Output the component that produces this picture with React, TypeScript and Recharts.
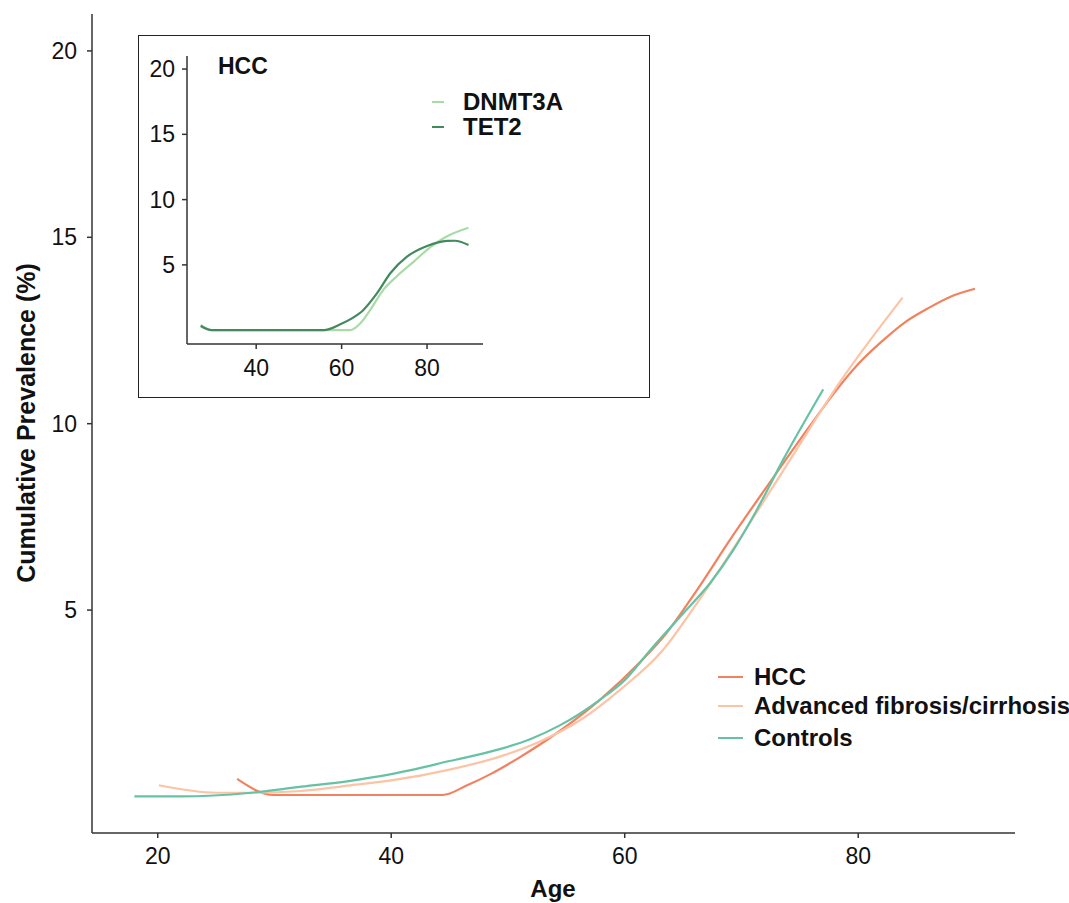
import { LineChart, Line, XAxis, YAxis } from "recharts";

// main panel: cumulative prevalence by age
const hccAge = [26.8, 29.9, 37, 44.4, 46.5, 48.5, 51, 54.4, 57.9, 61.3, 63.5, 66, 69.2, 72.6, 76, 78, 80, 82, 84, 86, 88, 90];
const hccPrev = [0.47, 0.04, 0.04, 0.04, 0.3, 0.6, 1.05, 1.75, 2.6, 3.6, 4.35, 5.45, 6.97, 8.5, 10.0, 10.85, 11.6, 12.2, 12.72, 13.1, 13.42, 13.62];

const fibAge = [20.1, 25, 28, 32, 36.5, 40, 45, 49.3, 52.7, 56.2, 59.6, 63.2, 66, 69.2, 73.8, 78.4, 83.8];
const fibPrev = [0.3, 0.1, 0.1, 0.14, 0.3, 0.43, 0.72, 1.07, 1.47, 2.05, 2.86, 3.9, 5.1, 6.6, 8.85, 11.1, 13.38];

const ctrlAge = [18, 22, 28, 32, 36.5, 40, 45, 49.3, 52, 54.4, 57.9, 60, 62.2, 65, 67.3, 69.3, 71.3, 73.6, 77];
const ctrlPrev = [0, 0, 0.1, 0.25, 0.42, 0.6, 0.95, 1.27, 1.55, 1.9, 2.6, 3.12, 3.93, 4.91, 5.72, 6.61, 7.68, 9.05, 10.92];

// inset: HCC by gene
const dnmAge = [27, 29.6, 40, 55, 62, 64.4, 66.7, 69.8, 73, 76.9, 80.7, 84.7, 89.7];
const dnmPrev = [0.4, 0, 0, 0, 0, 0.53, 1.55, 3.1, 4.15, 5.25, 6.35, 7.2, 7.85];

const tetAge = [27, 29.6, 40, 55.8, 59.7, 62.4, 65.1, 68.3, 71.4, 75.3, 80, 84.7, 86.5, 89.7];
const tetPrev = [0.32, 0, 0, 0, 0.45, 0.9, 1.55, 2.83, 4.36, 5.63, 6.45, 6.84, 6.85, 6.53];

const mainTicksX = [20, 40, 60, 80];
const mainTicksY = [5, 10, 15, 20];
const insetTicksX = [40, 60, 80];
const insetTicksY = [5, 10, 15, 20];

const mainNames = ["HCC", "Advanced fibrosis/cirrhosis", "Controls"];
const mainColors = ["#F2825F", "#FCC3A5", "#66C2A5"];
const insetNames = ["DNMT3A", "TET2"];
const insetColors = ["#A8DBA6", "#43895E"];

const zip = (xs: number[], ys: number[]) => xs.map((x, i) => ({ age: x, prev: ys[i] }));

const FONT = "'Liberation Sans', Arial, Helvetica, sans-serif";
const AXIS = "#333";
const tickStyle = { fontSize: 23, fill: "#111", fontFamily: FONT };

const AgeLabel = () => (
  <text x={553} y={897} textAnchor="middle" fontSize={24} fontWeight="bold" fontFamily={FONT} fill="#111">
    Age
  </text>
);

const PrevLabel = () => (
  <text
    x={35}
    y={423}
    transform="rotate(-90 35 423)"
    textAnchor="middle"
    fontSize={25}
    fontWeight="bold"
    fontFamily={FONT}
    fill="#111"
  >
    Cumulative Prevalence (%)
  </text>
);

const legendRow = (name: string, color: string, top: number, left: number, lineW: number, gap: number) => (
  <div
    key={name}
    style={{ position: "absolute", left, top: top - 14, height: 28, display: "flex", alignItems: "center", whiteSpace: "nowrap" }}
  >
    <div style={{ width: lineW, height: 2.5, background: color, marginRight: gap }} />
    <span style={{ fontFamily: FONT, fontWeight: "bold", fontSize: 24, color: "#111" }}>{name}</span>
  </div>
);

export default function App() {
  const mainData = [zip(hccAge, hccPrev), zip(fibAge, fibPrev), zip(ctrlAge, ctrlPrev)];
  const insetData = [zip(dnmAge, dnmPrev), zip(tetAge, tetPrev)];
  const mainRows = [677, 706, 738];
  const insetRows = [102, 127];

  return (
    <div style={{ position: "absolute", left: 0, top: 0, width: 1069, height: 903, background: "#fff" }}>
      <LineChart width={1069} height={903} margin={{ top: 14, right: 54, left: 0, bottom: 10 }}>
        <XAxis
          type="number"
          dataKey="age"
          domain={[14.37, 93.43]}
          ticks={mainTicksX}
          allowDataOverflow
          height={60}
          tickSize={5}
          tickMargin={10}
          tick={tickStyle}
          axisLine={{ stroke: AXIS, strokeWidth: 1.5 }}
          tickLine={{ stroke: AXIS, strokeWidth: 1.5 }}
          label={<AgeLabel />}
        />
        <YAxis
          type="number"
          domain={[-0.98, 20.99]}
          ticks={mainTicksY}
          allowDataOverflow
          width={92}
          tickSize={5}
          tickMargin={10}
          tick={tickStyle}
          axisLine={{ stroke: AXIS, strokeWidth: 1.5 }}
          tickLine={{ stroke: AXIS, strokeWidth: 1.5 }}
          label={<PrevLabel />}
        />
        {mainData.map((d, i) => (
          <Line
            key={mainNames[i]}
            data={d}
            dataKey="prev"
            name={mainNames[i]}
            type="monotone"
            stroke={mainColors[i]}
            strokeWidth={2.2}
            dot={false}
            isAnimationActive={false}
          />
        ))}
      </LineChart>

      {mainNames.map((n, i) => legendRow(n, mainColors[i], mainRows[i], 718, 25, 11))}

      <div
        style={{
          position: "absolute",
          left: 138,
          top: 35,
          width: 512,
          height: 363,
          border: "1.5px solid #222",
          boxSizing: "border-box",
          background: "#fff",
        }}
      />
      <div style={{ position: "absolute", left: 138, top: 35 }}>
        <LineChart width={512} height={363} margin={{ top: 21, right: 167, left: 0, bottom: 9 }}>
          <XAxis
            type="number"
            dataKey="age"
            domain={[23.8, 93.1]}
            ticks={insetTicksX}
            allowDataOverflow
            height={45}
            tickSize={5}
            tickMargin={11}
            tick={tickStyle}
            axisLine={{ stroke: AXIS, strokeWidth: 1.5 }}
            tickLine={{ stroke: AXIS, strokeWidth: 1.5 }}
          />
          <YAxis
            type="number"
            domain={[-1.06, 21]}
            ticks={insetTicksY}
            allowDataOverflow
            width={49}
            tickSize={5}
            tickMargin={7}
            tick={tickStyle}
            axisLine={{ stroke: AXIS, strokeWidth: 1.5 }}
            tickLine={{ stroke: AXIS, strokeWidth: 1.5 }}
          />
          {insetData.map((d, i) => (
            <Line
              key={insetNames[i]}
              data={d}
              dataKey="prev"
              name={insetNames[i]}
              type="monotone"
              stroke={insetColors[i]}
              strokeWidth={2.2}
              dot={false}
              isAnimationActive={false}
            />
          ))}
        </LineChart>
      </div>
      <div
        style={{
          position: "absolute",
          left: 218,
          top: 52,
          fontFamily: FONT,
          fontWeight: "bold",
          fontSize: 23,
          color: "#111",
          lineHeight: "28px",
        }}
      >
        HCC
      </div>
      {insetNames.map((n, i) => legendRow(n, insetColors[i], insetRows[i], 432, 12, 19))}
    </div>
  );
}
